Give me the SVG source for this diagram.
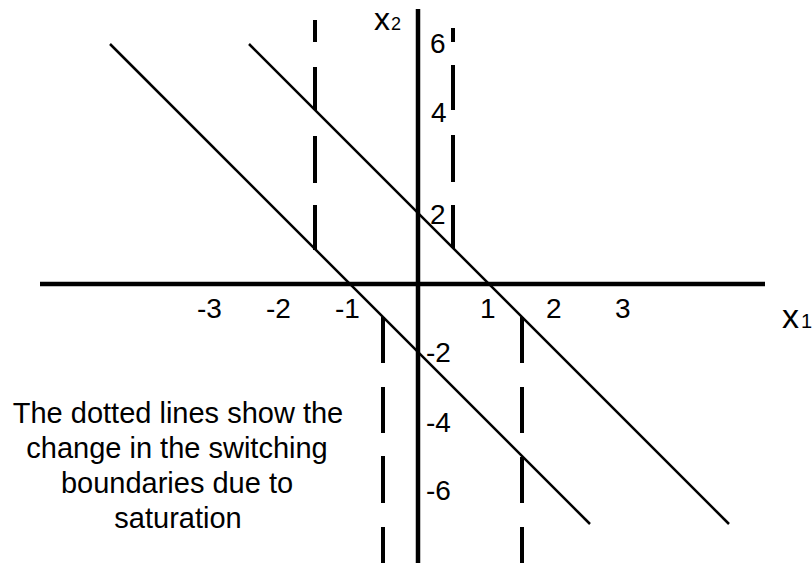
<svg xmlns="http://www.w3.org/2000/svg" width="812" height="563" viewBox="0 0 812 563">
<style>
text{font-family:"Liberation Sans",Arial,sans-serif;fill:#000}
.ax{stroke:#000;stroke-width:4.5;fill:none}
.dg{stroke:#000;stroke-width:2.5;fill:none}
.ds{stroke:#000;stroke-width:4;fill:none}
.tk{font-size:28px}
.note{font-size:29px;text-anchor:middle}
</style>
<rect width="812" height="563" fill="#fff"/>
<g id="axes">
<line class="ax" x1="40" y1="284" x2="765" y2="284"/>
<line class="ax" x1="418" y1="9" x2="418" y2="563"/>
</g>
<g id="boundaries">
<line class="dg" x1="110" y1="44" x2="590" y2="524"/>
<line class="dg" x1="249" y1="44" x2="729" y2="524"/>
</g>
<g id="saturated-boundaries">
<path class="ds" d="M315 20V42M315 67V110M315 136V183M315 205V250"/>
<path class="ds" d="M453 28V42M453 65V110M453 135V182M453 205V248"/>
<path class="ds" d="M383 317V363M383 387V433M383 456V503M383 527V563"/>
<path class="ds" d="M522 317V363M522 387V433M522 457V503M522 527V563"/>
</g>
<g id="axis-labels">
<text x="374" y="30" font-size="32">x</text><text x="391" y="30" font-size="18">2</text>
<text x="782" y="328" font-size="34">x</text><text x="801" y="328" font-size="20">1</text>
</g>
<g id="ticks" class="tk">
<text x="197" y="318">-3</text>
<text x="266" y="318">-2</text>
<text x="335" y="318">-1</text>
<text x="480" y="318">1</text>
<text x="546" y="318">2</text>
<text x="615" y="318">3</text>
<text x="430" y="53">6</text>
<text x="431" y="122">4</text>
<text x="430" y="224">2</text>
<text x="426" y="362">-2</text>
<text x="426" y="432">-4</text>
<text x="426" y="500">-6</text>
</g>
<g id="note" class="note">
<text x="178" y="423">The dotted lines show the</text>
<text x="177" y="458">change in the switching</text>
<text x="177" y="493">boundaries due to</text>
<text x="178" y="528">saturation</text>
</g>
</svg>
